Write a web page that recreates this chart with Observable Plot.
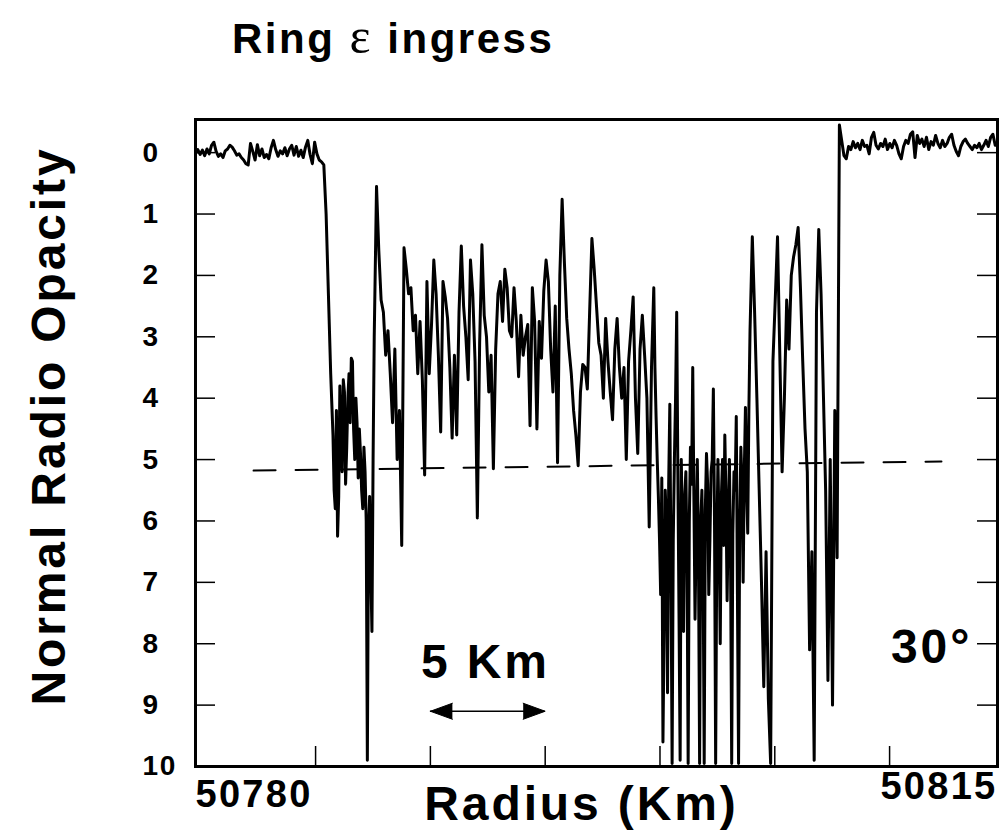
<!DOCTYPE html>
<html>
<head>
<meta charset="utf-8">
<script src="https://cdn.jsdelivr.net/npm/d3@7"></script>
<script src="https://cdn.jsdelivr.net/npm/@observablehq/plot@0.6"></script>
<style>
  html, body { margin: 0; padding: 0; background: #fff; }
  #chart { position: relative; width: 1005px; height: 839px; overflow: hidden; }
  #title {
    position: absolute; left: 232px; top: 11px; margin: 0;
    font: bold 42px/1 "Liberation Sans", Arial, Helvetica, sans-serif;
    letter-spacing: 0.06em; color: #000; white-space: nowrap;
  }
  #title .eps { font-family: "Liberation Serif", "Times New Roman", serif; font-weight: normal; font-size: 50px; }
  #chart svg text { letter-spacing: 0.06em; }
</style>
</head>
<body>
<div id="chart">
  <div id="title">Ring <span class="eps">ε</span> ingress</div>
</div>
<script>
// Radial sampling of the occultation profile (km)
const radiusStart = 50779.77;
const radiusStep = 0.0998;

// Normal radio opacity, free space before the ring
const leftBaseline = [
  0.02,-0.05,0.03,-0.04,0.05,-0.06,0.02,-0.12,-0.17,-0.02,
  0.06,0.02,0.08,-0.03,-0.06,-0.12,-0.09,-0.03,0.04,0.02,
  0.08,0.12,0.18,0.2,-0.15,-0.02,0.12,-0.13,0.05,-0.06,
  0.08,0.03,0.1,-0.08,-0.2,-0.05,0.06,-0.03,0.02,-0.08,
  0.05,-0.06,-0.12,0.04,-0.1,0.06,-0.04,0.08,-0.09,-0.2,
  0.03,0.18,-0.17,0.02,0.12,0.15,0.2
];

// Normal radio opacity across the ring
const ringProfile = [
  1.0,2.3,3.6,
  4.6,5.8,6.25,3.8,5.2,3.9,4.8,3.6,3.35,4.5,
  4.0,5.3,4.9,5.8,5.2,9.9,5.6,7.8,3.0,0.55,
  1.6,2.4,2.6,3.3,2.9,3.6,4.4,3.2,5.0,4.2,
  6.4,1.55,1.9,2.3,2.2,2.9,2.65,3.6,2.75,3.7,
  5.25,2.1,3.6,2.8,1.75,2.3,3.3,4.55,2.1,2.35,
  2.7,3.5,4.65,3.3,4.6,2.6,1.52,2.5,3.0,3.7,
  1.75,2.3,3.4,5.95,3.1,1.5,2.65,3.0,3.9,3.3,
  5.15,3.2,2.3,2.1,2.75,1.9,2.2,2.9,3.0,2.2,
  2.75,3.65,2.65,3.3,3.0,2.8,4.45,2.2,2.75,4.5,
  2.75,3.35,2.25,1.75,2.1,3.2,3.9,2.5,5.05,2.0,
  0.76,1.8,2.7,3.2,3.6,4.2,4.6,5.1,3.9,3.45,
  3.5,3.85,2.6,1.4,1.9,2.5,3.1,3.3,4.0,2.7,
  3.4,3.9,4.35,3.2,2.7,3.5,4.0,3.5,5.0,3.4,
  2.9,2.35,4.0,4.9,3.2,2.65,3.3,4.0,6.1,3.5,
  2.2,4.3,5.6,7.2,9.6,5.5,8.8,4.1,9.95,5.0,
  2.6,7.5,5.0,7.8,5.2,9.95,4.8,3.5,7.6,5.0,
  9.95,5.5,9.95,4.9,7.2,5.2,3.85,9.95,5.0,8.0,
  5.0,4.6,7.3,5.0,9.95,5.2,4.3,9.95,4.8,7.0,
  4.15,6.2,2.9,1.37,2.6,4.0,5.5,7.0,8.7,6.5,
  8.9,9.95,3.4,2.4,1.37,3.3,5.2,4.0,2.4,3.2,
  2.0,1.7,1.5,1.22,2.2,3.4,4.5,5.2,8.1,6.5,
  9.9,2.6,1.25,2.3,3.9,5.5,8.6,5.0,9.0,4.2,
  6.6,-0.45
];

// Normal radio opacity, free space after the ring
const rightBaseline = [
  -0.2,0.05,0.1,-0.1,-0.05,-0.18,-0.08,-0.15,
  -0.05,-0.2,-0.1,-0.12,0.02,-0.25,-0.33,-0.12,-0.06,-0.15,
  -0.1,-0.22,-0.05,-0.15,-0.08,-0.2,-0.12,0.02,0.1,-0.1,
  -0.2,-0.15,-0.3,-0.34,0.08,-0.28,-0.15,-0.22,-0.1,-0.25,
  -0.05,-0.18,-0.12,-0.28,-0.15,-0.08,-0.2,-0.1,-0.15,-0.25,
  -0.3,-0.12,-0.02,0.05,-0.1,-0.18,-0.22,-0.15,-0.1,-0.05,
  -0.12,-0.08,-0.15,-0.05,-0.12,-0.2,-0.1,-0.25,-0.3,-0.12,
  -0.15
];

// Half-step readings inside the two dense, rapidly varying stretches
const innerDetailStart = 60.5;   // sample index of the first half-step reading
const innerDetail = [
  5.5,4.2,5.6,4.6,3.7,5.4,4.0,4.4,3.4,5.0,
  4.4,4.5,5.5,4.8,6.0,6.2,6.8,5.0
];
const outerDetailStart = 200.5;
const outerDetail = [
  3.5,5.0,6.3,5.3,7.8,6.0,5.4,6.8,6.3,4.0,
  5.2,9.9,6.2,5.6,6.6,6.0,5.4,5.6,6.2,6.6,
  6.0,6.6,5.8,5.4,6.3,5.0,6.0,6.4,6.2,5.6,
  6.4,5.6,6.0,6.6,6.2,5.5,7.2,6.0,5.4,5.2,
  5.4,4.2
];

// Reference opacity level (dashed)
const levelRadius = [50782.3, 50812.26];
const levelOpacity = [5.18, 5.03];

// Axis ticks and labels
const yTicks = [0, 1, 2, 3, 4, 5, 6, 7, 8, 9, 10];
const xTicks = [50785, 50790, 50795, 50800, 50805, 50810];
const xEndLabels = ["50780", "50815"];

// 5 km scale bar
const scaleBarRadius = [50790, 50795];
const scaleBarKm = scaleBarRadius[1] - scaleBarRadius[0];

const radiusAt = k => radiusStart + k * radiusStep;
const opacity = [...leftBaseline, ...ringProfile, ...rightBaseline];
const trace = [
  ...opacity.map((v, i) => ({radius: radiusAt(i), opacity: v})),
  ...innerDetail.map((v, i) => ({radius: radiusAt(innerDetailStart + i), opacity: v})),
  ...outerDetail.map((v, i) => ({radius: radiusAt(outerDetailStart + i), opacity: v}))
].sort((a, b) => a.radius - b.radius);
const level = levelRadius.map((r, i) => ({radius: r, opacity: levelOpacity[i]}));

const font = "'Liberation Sans', Arial, Helvetica, sans-serif";
const barLevel = 9.1;

const chart = Plot.plot({
  width: 1005,
  height: 839,
  marginLeft: 195,
  marginRight: 8,
  marginTop: 119,
  marginBottom: 73,
  style: {fontFamily: font, background: "#fff", color: "#000", overflow: "visible"},
  x: {domain: [50779.77, 50814.7], axis: null},
  y: {domain: [-0.54, 10], reverse: true, axis: null},
  marks: [
    Plot.line(level, {x: "radius", y: "opacity", stroke: "#000", strokeWidth: 2, strokeDasharray: "22,20"}),
    Plot.line(trace, {x: "radius", y: "opacity", stroke: "#000", strokeWidth: 3, strokeLinejoin: "round"}),
    // inward ticks on left, right and bottom
    Plot.tickY(yTicks, {y: d => d, insetRight: 782, stroke: "#000", strokeWidth: 1.5}),
    Plot.tickY(yTicks, {y: d => d, insetLeft: 782, stroke: "#000", strokeWidth: 1.5}),
    Plot.tickX(xTicks, {x: d => d, insetTop: 627, stroke: "#000", strokeWidth: 1.5}),
    Plot.frame({stroke: "#000", strokeWidth: 3}),
    // y tick labels
    Plot.text(yTicks, {y: d => d, text: d => String(d), frameAnchor: "left", dx: -53,
      textAnchor: "start", fontSize: 28, fontWeight: "bold", fill: "#000"}),
    // x end labels
    Plot.text([xEndLabels[0]], {frameAnchor: "bottom-left", textAnchor: "start", lineAnchor: "top",
      dy: 14, fontSize: 38, fontWeight: "bold", fill: "#000"}),
    Plot.text([xEndLabels[1]], {frameAnchor: "bottom-right", textAnchor: "end", lineAnchor: "top",
      dy: 6, fontSize: 38, fontWeight: "bold", fill: "#000"}),
    // axis titles
    Plot.text(["Radius (Km)"], {frameAnchor: "bottom", textAnchor: "middle", lineAnchor: "middle", dx: -15, dy: 38,
      fontSize: 48, fontWeight: "bold", fill: "#000"}),
    Plot.text(["Normal Radio Opacity"], {frameAnchor: "left", textAnchor: "middle", rotate: -90, lineAnchor: "middle",
      dx: -146, dy: -17, fontSize: 48, fontWeight: "bold", fill: "#000"}),
    // scale bar
    Plot.ruleY([barLevel], {x1: scaleBarRadius[0], x2: scaleBarRadius[1], stroke: "#000", strokeWidth: 1.5}),
    Plot.vector([
      {radius: scaleBarRadius[0], dir: -90},
      {radius: scaleBarRadius[1], dir: 90}
    ], {x: "radius", y: () => barLevel, rotate: "dir", length: 22, r: 8, shape: "spike",
      anchor: "end", fill: "#000", stroke: "#000", fillOpacity: 1, strokeWidth: 1}),
    Plot.text([`${scaleBarKm} Km`], {x: () => 50792.4, y: () => 8.3, fontSize: 48,
      fontWeight: "bold", fill: "#000"}),
    Plot.text(["30°"], {x: () => 50811.83, y: () => 8.06, fontSize: 48,
      fontWeight: "bold", fill: "#000"})
  ]
});

document.getElementById("chart").appendChild(chart);
</script>
</body>
</html>
